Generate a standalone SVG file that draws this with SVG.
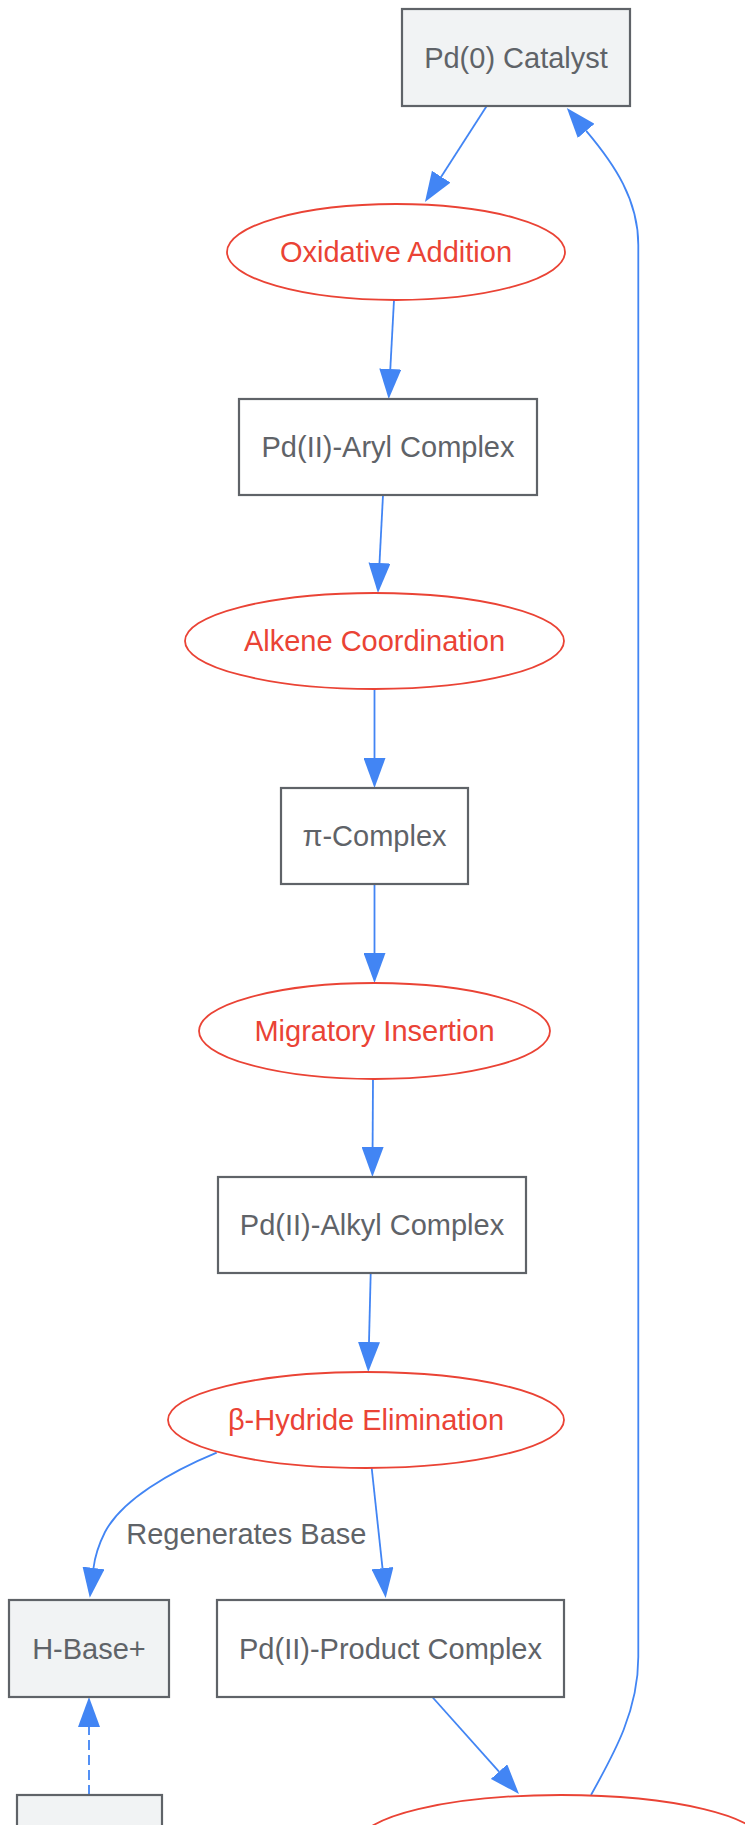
<svg xmlns="http://www.w3.org/2000/svg" width="745" height="1825" viewBox="0 0 745 1825">
<style>
.box{stroke:#5f6368;stroke-width:2.2;fill:#ffffff}
.gray{fill:#f1f3f4}
.ell{stroke:#ea4335;stroke-width:1.8;fill:#ffffff}
.t{font-family:"Liberation Sans",Arial,sans-serif;font-size:29px;text-anchor:middle;fill:#5f6368}
.r{fill:#ea4335}
.e{fill:none;stroke:#4285f4;stroke-width:1.8}
.d{stroke-dasharray:10,5}
</style>
<defs>
<marker id="ah" markerUnits="userSpaceOnUse" markerWidth="30" markerHeight="22" viewBox="0 0 30 22" refX="0" refY="11" orient="auto">
<path d="M0,0 L30,11 L0,22 z" fill="#4285f4"/>
</marker>
</defs>
<rect width="745" height="1825" fill="#ffffff"/>
<g id="connectors">
<path class="e" d="M486.7,106 L441.2,176.7" marker-end="url(#ah)"/>
<path class="e" d="M394,300 L390.3,369" marker-end="url(#ah)"/>
<path class="e" d="M383,495 L379.5,563" marker-end="url(#ah)"/>
<path class="e" d="M374.5,689 L374.5,758" marker-end="url(#ah)"/>
<path class="e" d="M374.5,884 L374.5,953" marker-end="url(#ah)"/>
<path class="e" d="M373,1079 L372.6,1147" marker-end="url(#ah)"/>
<path class="e" d="M370.7,1273 L369,1342" marker-end="url(#ah)"/>
<path class="e" d="M216.7,1452.7 C170,1472 122,1500 105,1532 C99,1544 95,1556 93.5,1568" marker-end="url(#ah)"/>
<text class="t" x="246.3" y="1544">Regenerates Base</text>
<path class="e" d="M371.7,1468 L382.5,1568.2" marker-end="url(#ah)"/>
<path class="e" d="M432.3,1697 L499,1771.6" marker-end="url(#ah)"/>
<path class="e d" d="M89,1795 L89,1727" marker-end="url(#ah)"/>
<path class="e" d="M591,1795 C615,1752 638.3,1710 638.3,1657 L638.3,245 C638.3,200 615,165 586.2,130.9" marker-end="url(#ah)"/>
</g>
<g id="pd0">
<rect class="box gray" x="402" y="9" width="228" height="97"/>
<text class="t" x="516" y="68">Pd(0) Catalyst</text>
</g>
<g id="oxadd">
<ellipse class="ell" cx="396" cy="252" rx="169" ry="48"/>
<text class="t r" x="396" y="262.4">Oxidative Addition</text>
</g>
<g id="aryl">
<rect class="box" x="239" y="399" width="298" height="96"/>
<text class="t" x="388" y="457.4">Pd(II)-Aryl Complex</text>
</g>
<g id="alkene">
<ellipse class="ell" cx="374.5" cy="641" rx="189.5" ry="48"/>
<text class="t r" x="374.5" y="651.4">Alkene Coordination</text>
</g>
<g id="pi">
<rect class="box" x="281" y="788" width="187" height="96"/>
<text class="t" x="374.5" y="846.4">π-Complex</text>
</g>
<g id="migratory">
<ellipse class="ell" cx="374.5" cy="1031" rx="175.5" ry="48"/>
<text class="t r" x="374.5" y="1041.4">Migratory Insertion</text>
</g>
<g id="alkyl">
<rect class="box" x="218" y="1177" width="308" height="96"/>
<text class="t" x="372" y="1235.4">Pd(II)-Alkyl Complex</text>
</g>
<g id="betah">
<ellipse class="ell" cx="366" cy="1420" rx="198" ry="48"/>
<text class="t r" x="366" y="1430.4">β-Hydride Elimination</text>
</g>
<g id="hbase">
<rect class="box gray" x="9" y="1600" width="160" height="97"/>
<text class="t" x="89" y="1658.5">H-Base+</text>
</g>
<g id="product">
<rect class="box" x="217" y="1600" width="347" height="97"/>
<text class="t" x="390.5" y="1658.5">Pd(II)-Product Complex</text>
</g>
<g id="base">
<rect class="box gray" x="17" y="1795" width="145" height="97"/>
</g>
<g id="reductive">
<ellipse class="ell" cx="561" cy="1843" rx="202" ry="48"/>
</g>
</svg>
